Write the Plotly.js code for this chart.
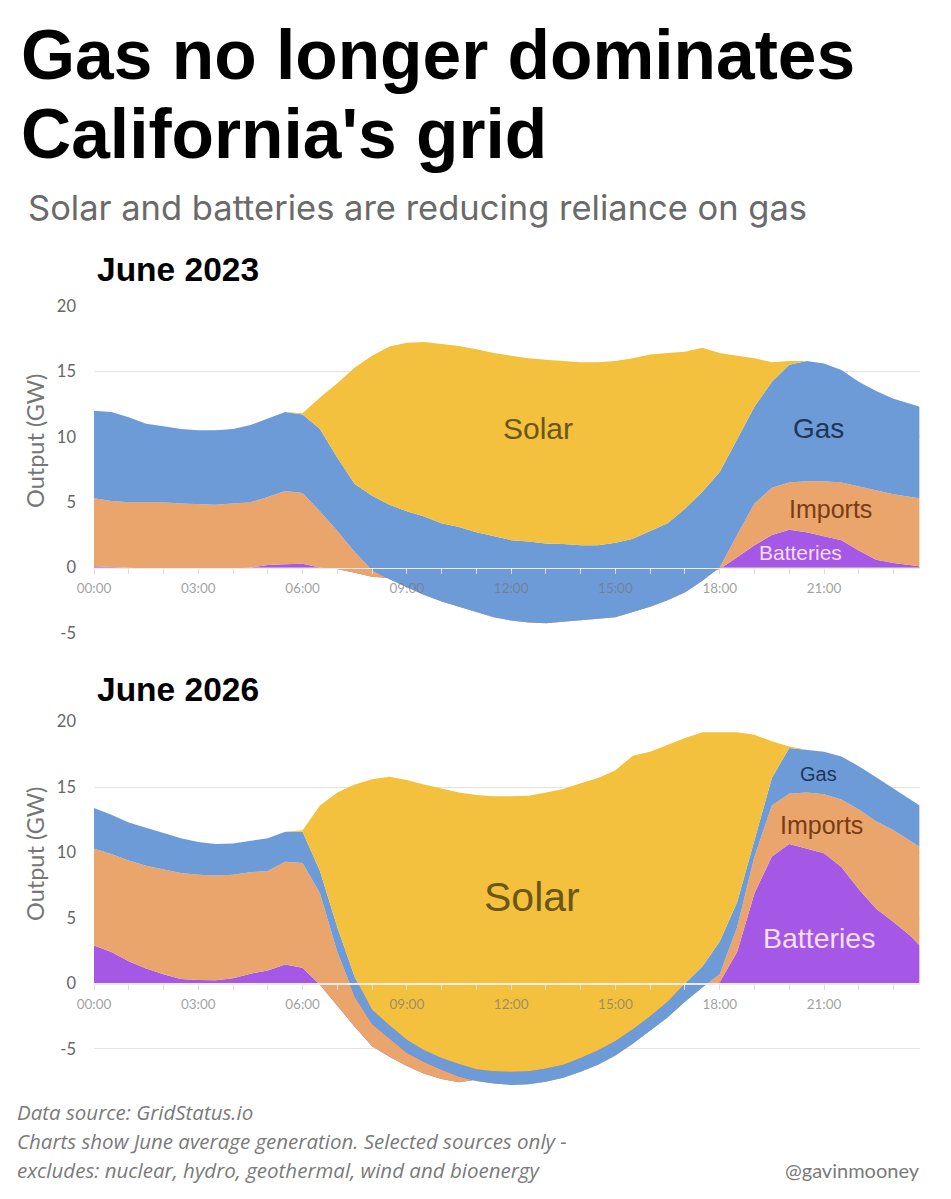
<!DOCTYPE html>
<html>
<head>
<meta charset="utf-8">
<script src="https://cdn.plot.ly/plotly-3.0.1.min.js"></script>
<style>
  html, body { margin: 0; padding: 0; background: #ffffff; }
  #chart { width: 951px; height: 1199px; }
</style>
</head>
<body>
<div id="chart"></div>
<script>
// Half-hourly time of day (hours after midnight)
const hours = [0, 0.5, 1, 1.5, 2, 2.5, 3, 3.5, 4, 4.5, 5, 5.5, 6, 6.5, 7, 7.5, 8, 8.5, 9, 9.5,
  10, 10.5, 11, 11.5, 12, 12.5, 13, 13.5, 14, 14.5, 15, 15.5, 16, 16.5, 17, 17.5, 18, 18.5, 19, 19.5,
  20, 20.5, 21, 21.5, 22, 22.5, 23, 23.5, 23.75];

const tickHours = [0, 3, 6, 9, 12, 15, 18, 21];
const tickLabels = ['00:00', '03:00', '06:00', '09:00', '12:00', '15:00', '18:00', '21:00'];
const outputTicks = [20, 15, 10, 5, 0, -5];
const outputTickLabels = ['20', '15', '10', '5', '0', '-5'];

// June 2023 average output by source (GW)
const batteries2023 = [0.1, 0.05, -0.05, -0.1, -0.1, -0.1, -0.1, -0.1, -0.05, 0, 0.2, 0.25, 0.3, 0, -0.1, -0.4, -0.7, -0.8, -1.0, -1.3,
  -1.6, -1.9, -2.1, -2.3, -2.5, -2.5, -2.5, -2.4, -2.3, -2.2, -2.0, -1.8, -1.5, -1.2, -0.9, -0.5, -0.1, 0.8, 1.7, 2.5,
  2.9, 2.7, 2.4, 2.1, 1.3, 0.6, 0.35, 0.15, 0.1];
const imports2023 = [5.2, 5.05, 5.05, 5.1, 5.1, 5.0, 4.95, 4.9, 4.95, 5.0, 5.2, 5.6, 5.4, 4.3, 2.9, 1.6, 0.5, -0.1, -0.5, -0.8,
  -1.0, -1.1, -1.35, -1.5, -1.55, -1.7, -1.75, -1.75, -1.75, -1.75, -1.8, -1.6, -1.5, -1.3, -1.0, -0.5, 0.1, 1.7, 3.2, 3.6,
  3.6, 3.9, 4.2, 4.4, 4.9, 5.3, 5.25, 5.25, 5.2];
const gas2023 = [6.7, 6.8, 6.5, 6.0, 5.8, 5.7, 5.65, 5.7, 5.7, 5.9, 6.0, 6.05, 6.0, 6.3, 5.6, 5.2, 5.7, 5.7, 5.8, 6.0,
  6.0, 6.1, 6.15, 6.2, 6.15, 6.2, 6.1, 5.95, 5.75, 5.65, 5.7, 5.6, 5.8, 5.9, 6.4, 6.8, 7.3, 7.3, 7.4, 8.1,
  9.0, 9.2, 9.0, 8.6, 8.0, 7.6, 7.3, 7.1, 7.0];
const solar2023 = [0, 0, 0, 0, 0, 0, 0, 0, 0, 0, 0, 0, 0.1, 2.4, 5.7, 8.9, 10.7, 12.1, 12.9, 13.35,
  13.7, 13.85, 14.0, 14.0, 14.1, 14.0, 14.05, 14.0, 14.0, 14.0, 13.9, 13.8, 13.5, 13.0, 12.0, 11.0, 9.1, 6.4, 3.7, 1.5,
  0.3, 0, 0, 0, 0, 0, 0, 0, 0];

// June 2026 average output by source (GW)
const batteries2026 = [2.9, 2.4, 1.7, 1.15, 0.7, 0.35, 0.27, 0.25, 0.4, 0.75, 1.0, 1.45, 1.2, -0.1, -1.7, -3.3, -4.8, -5.6, -6.3, -6.9,
  -7.3, -7.55, -7.35, -7.3, -7.3, -7.2, -7.0, -6.7, -6.3, -5.7, -5.0, -4.1, -3.1, -2.0, -0.8, -0.1, 0.1, 2.4, 6.9, 9.7,
  10.65, 10.3, 9.95, 8.9, 7.2, 5.7, 4.7, 3.6, 2.9];
const imports2026 = [7.4, 7.5, 7.7, 7.85, 8.0, 8.1, 8.03, 8.0, 7.9, 7.75, 7.6, 7.85, 8.0, 7.0, 4.1, 2.3, 1.7, 1.4, 1.0, 0.9,
  0.7, 0.45, -0.1, -0.35, -0.45, -0.5, -0.5, -0.5, -0.45, -0.5, -0.5, -0.5, -0.5, -0.6, -0.6, -0.2, 0.6, 1.9, 2.8, 3.9,
  3.85, 4.3, 4.5, 5.15, 6.1, 6.7, 7.0, 7.3, 7.55];
const gas2026 = [3.1, 3.0, 2.9, 2.9, 2.8, 2.65, 2.5, 2.4, 2.4, 2.4, 2.5, 2.3, 2.4, 1.7, 1.9, 1.5, 1.1, 1.0, 1.0, 0.9,
  0.9, 0.95, 0.9, 0.95, 1.0, 1.0, 1.0, 1.0, 1.05, 1.1, 1.1, 1.1, 1.1, 1.2, 1.4, 1.6, 2.5, 1.9, 1.3, 2.1,
  3.5, 3.25, 3.25, 3.3, 3.3, 3.35, 3.2, 3.1, 3.15];
const solar2026 = [0, 0, 0, 0, 0, 0, 0, 0, 0, 0, 0, 0, 0.1, 5.0, 10.3, 14.7, 17.6, 19.0, 19.85, 20.3,
  20.6, 20.75, 20.95, 21.0, 21.05, 21.05, 21.1, 21.05, 21.0, 20.8, 20.7, 20.9, 20.2, 19.65, 18.75, 17.9, 16.0, 13.0, 8.0, 2.8,
  0.1, 0, 0, 0, 0, 0, 0, 0, 0];

const sourceNames = ['Batteries', 'Imports', 'Gas', 'Solar'];
const fillColors = {
  Batteries: '#a557e6',
  Imports: '#e9a56b',
  Gas: '#6d9bd8',
  Solar: '#f3c13d'
};
const labelColors = {
  Batteries: '#f4dff8',
  Imports: '#7a3c12',
  Gas: '#1e3658',
  Solar: '#6b5618'
};

// ---- page geometry (pixels) ----
const W = 951, H = 1199;
const px = x => x / W;
const py = y => 1 - y / H;
const plotLeft = 94, plotRight = 919.6;
const panels = [
  { top: 305.35, bottom: 633.65, range: [-5.05, 20.05] },
  { top: 721.05, bottom: 1089.5, range: [-8.1, 20.05] }
];

function stackTraces(values, group, xa, ya) {
  return sourceNames.map((name, i) => ({
    type: 'scatter', mode: 'lines', name: name,
    x: hours, y: values[i],
    stackgroup: group,
    line: { width: 0 },
    fillcolor: fillColors[name],
    xaxis: xa, yaxis: ya,
    hoverinfo: 'skip', showlegend: false
  }));
}

const data = [
  ...stackTraces([batteries2023, imports2023, gas2023, solar2023], 'june2023', 'x', 'y'),
  ...stackTraces([batteries2026, imports2026, gas2026, solar2026], 'june2026', 'x2', 'y2')
];

function yDomain(p) { return [py(p.bottom), py(p.top)]; }
function zeroPosition(p) {
  const d = yDomain(p);
  return d[0] + (0 - p.range[0]) / (p.range[1] - p.range[0]) * (d[1] - d[0]);
}

function timeAxis(p) {
  return {
    type: 'linear', anchor: 'free', position: zeroPosition(p),
    domain: [px(plotLeft), px(plotRight)], range: [0, 23.75],
    tickmode: 'array', tickvals: tickHours, ticktext: tickLabels,
    ticks: 'outside', ticklen: 5, tickwidth: 1, tickcolor: '#dedede',
    minor: { tickmode: 'linear', tick0: 0, dtick: 1, ticks: 'outside', ticklen: 5, tickwidth: 1, tickcolor: '#dedede', showgrid: false },
    showline: true, linecolor: '#ececec', linewidth: 1.5,
    showgrid: false, zeroline: false,
    ticklabelstandoff: 3,
    tickfont: { family: 'Lato, sans-serif', size: 13.5, color: 'rgba(118,118,118,0.7)' },
    fixedrange: true
  };
}

function outputAxis(p, xa) {
  return {
    domain: yDomain(p), range: p.range, anchor: xa,
    tickmode: 'array', tickvals: outputTicks, ticktext: outputTickLabels,
    ticks: '', ticklabelstandoff: 17,
    showgrid: true, gridcolor: '#e3e3e3', gridwidth: 1,
    zeroline: false, showline: false,
    tickfont: { family: 'Lato, sans-serif', size: 16.5, color: '#666666' },
    fixedrange: true
  };
}

function pageText(text, x, y, size, opts) {
  return Object.assign({
    text: text, xref: 'paper', yref: 'paper', x: px(x), y: py(y),
    xanchor: 'left', yanchor: 'middle', showarrow: false,
    font: { family: 'Liberation Sans, Arial, sans-serif', size: size, color: '#000000' }
  }, opts || {});
}

function areaLabel(name, xa, ya, hx, gy, size) {
  return {
    text: name, xref: xa, yref: ya, x: hx, y: gy,
    xanchor: 'center', yanchor: 'middle', showarrow: false,
    font: { family: 'Liberation Sans, Arial, sans-serif', size: size, color: labelColors[name] }
  };
}

const axisTitleFont = { family: 'Lato, sans-serif', size: 23.5, color: '#767676' };
const footFont = { family: 'Open Sans, sans-serif', size: 20.5, color: '#7a7a7a', style: 'italic' };

const annotations = [
  pageText('<b>Gas no longer dominates</b>', 19, 55, 69.5),
  pageText("<b>California's grid</b>", 19, 134, 69.5),
  pageText('Solar and batteries are reducing reliance on gas', 26, 207, 34.5,
    { font: { family: 'Inter, sans-serif', size: 34.5, color: '#6a6a6a' } }),
  pageText('<b>June 2023</b>', 95, 270, 33.5),
  pageText('<b>June 2026</b>', 95, 689, 33.5),
  pageText('Output (GW)', 35, 441, 23.5, { xanchor: 'center', textangle: -90, font: axisTitleFont }),
  pageText('Output (GW)', 35, 854, 23.5, { xanchor: 'center', textangle: -90, font: axisTitleFont }),
  pageText('Data source: GridStatus.io', 15, 1112, 20.5, { font: footFont }),
  pageText('Charts show June average generation. Selected sources only -', 15, 1141, 20.5, { font: footFont }),
  pageText('excludes: nuclear, hydro, geothermal, wind and bioenergy', 15, 1170, 20.5, { font: footFont }),
  pageText('@gavinmooney', 922, 1170, 20, { xanchor: 'right', font: { family: 'Lato, sans-serif', size: 20, color: '#7a7a7a' } }),

  areaLabel('Solar', 'x', 'y', 12.76, 10.6, 30),
  areaLabel('Gas', 'x', 'y', 20.83, 10.6, 28),
  areaLabel('Imports', 'x', 'y', 21.2, 4.5, 25),
  areaLabel('Batteries', 'x', 'y', 20.33, 1.15, 21),

  areaLabel('Solar', 'x2', 'y2', 12.59, 6.6, 41),
  areaLabel('Gas', 'x2', 'y2', 20.84, 16.0, 20),
  areaLabel('Imports', 'x2', 'y2', 20.92, 12.1, 25),
  areaLabel('Batteries', 'x2', 'y2', 20.87, 3.5, 28.5)
];

const layout = {
  width: W, height: H,
  margin: { l: 0, r: 0, t: 0, b: 0, pad: 0 },
  paper_bgcolor: '#ffffff', plot_bgcolor: 'rgba(0,0,0,0)',
  showlegend: false,
  xaxis: timeAxis(panels[0]),
  yaxis: outputAxis(panels[0], 'x'),
  xaxis2: timeAxis(panels[1]),
  yaxis2: outputAxis(panels[1], 'x2'),
  annotations: annotations
};

Plotly.newPlot('chart', data, layout, { staticPlot: true, displayModeBar: false });
</script>
</body>
</html>
